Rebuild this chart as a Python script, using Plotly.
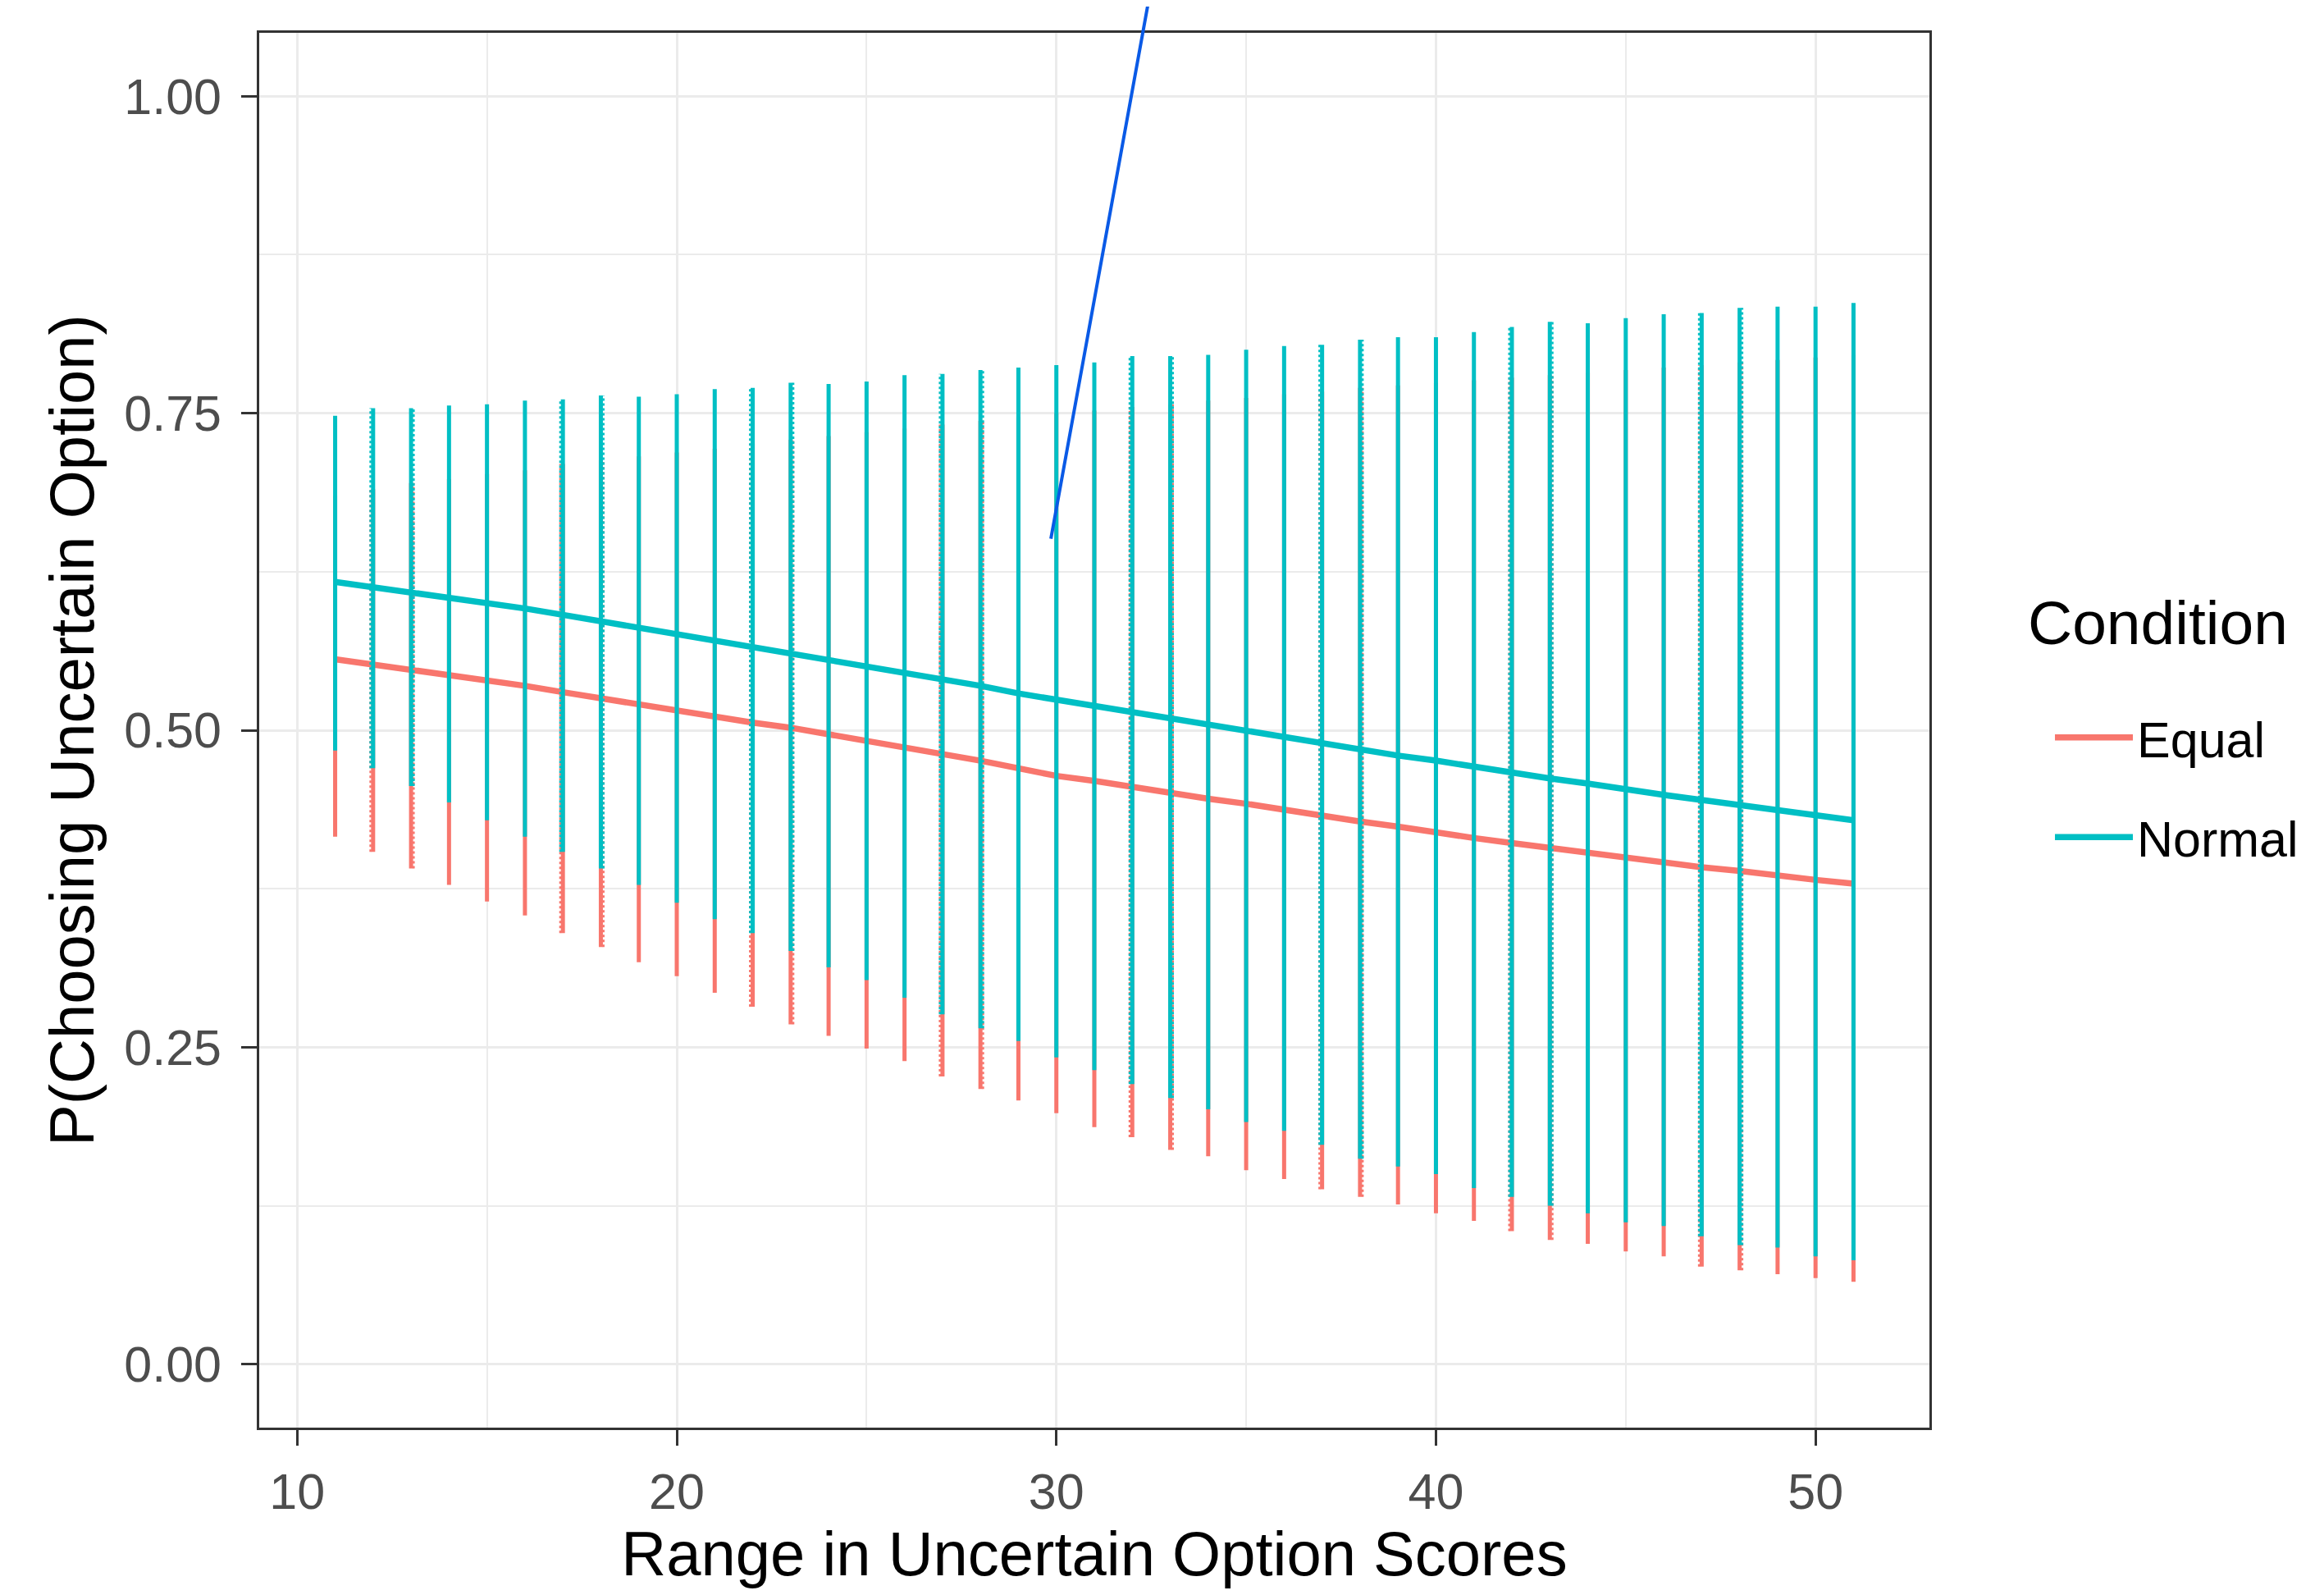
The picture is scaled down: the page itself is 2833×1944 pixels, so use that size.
import plotly.graph_objects as go

x_vals = list(range(11, 52))

equal_mean = [0.556, 0.552, 0.548, 0.543, 0.539, 0.535, 0.530, 0.525, 0.520, 0.515,
              0.511, 0.506, 0.502, 0.497, 0.492, 0.487, 0.481, 0.476, 0.470, 0.464,
              0.460, 0.455, 0.451, 0.446, 0.442, 0.437, 0.433, 0.428, 0.424, 0.419,
              0.415, 0.411, 0.407, 0.403, 0.399, 0.395, 0.392, 0.389, 0.385, 0.382, 0.379]
equal_low = [0.416, 0.404, 0.391, 0.378, 0.365, 0.354, 0.340, 0.329, 0.317, 0.306,
             0.293, 0.282, 0.268, 0.259, 0.249, 0.239, 0.227, 0.217, 0.208, 0.198,
             0.187, 0.179, 0.169, 0.164, 0.153, 0.146, 0.138, 0.132, 0.126, 0.119,
             0.113, 0.105, 0.098, 0.095, 0.089, 0.085, 0.077, 0.074, 0.071, 0.068, 0.065]
equal_high = [0.685, 0.690, 0.695, 0.698, 0.702, 0.705, 0.710, 0.713, 0.716, 0.719,
              0.722, 0.726, 0.729, 0.732, 0.735, 0.738, 0.741, 0.744, 0.747, 0.750,
              0.752, 0.755, 0.757, 0.760, 0.762, 0.765, 0.767, 0.770, 0.772, 0.774,
              0.776, 0.778, 0.780, 0.782, 0.784, 0.786, 0.788, 0.790, 0.792, 0.794, 0.796]

normal_mean = [0.617, 0.613, 0.609, 0.605, 0.600, 0.596, 0.591, 0.586, 0.581, 0.576,
               0.571, 0.566, 0.561, 0.555, 0.550, 0.545, 0.540, 0.535, 0.529, 0.524,
               0.519, 0.514, 0.509, 0.505, 0.500, 0.495, 0.490, 0.485, 0.480, 0.476,
               0.471, 0.467, 0.462, 0.458, 0.453, 0.449, 0.445, 0.441, 0.437, 0.433, 0.429]
normal_low = [0.484, 0.470, 0.456, 0.443, 0.429, 0.416, 0.404, 0.391, 0.378, 0.364,
              0.351, 0.340, 0.326, 0.313, 0.303, 0.289, 0.276, 0.265, 0.255, 0.242,
              0.232, 0.221, 0.210, 0.201, 0.191, 0.184, 0.173, 0.162, 0.156, 0.150,
              0.139, 0.132, 0.125, 0.119, 0.112, 0.109, 0.101, 0.094, 0.092, 0.085, 0.082]
normal_high = [0.748, 0.754, 0.754, 0.756, 0.757, 0.760, 0.761, 0.764, 0.763, 0.765,
               0.769, 0.770, 0.774, 0.773, 0.775, 0.780, 0.781, 0.784, 0.786, 0.788,
               0.790, 0.795, 0.795, 0.796, 0.800, 0.803, 0.804, 0.808, 0.810, 0.810,
               0.814, 0.818, 0.822, 0.821, 0.825, 0.828, 0.829, 0.833, 0.834, 0.834, 0.837]

conditions = ["Equal", "Normal"]
colors = {"Equal": "#F8766D", "Normal": "#00BFC4"}
legend_title = "Condition"

# annotation segment (start point and far end, in data units)
arrow_start = (29.85, 0.65)
arrow_end = (32.58, 1.10)

FONT = "Liberation Sans, Arial, Helvetica, sans-serif"

fig = go.Figure()


def bar_xy(xs, lo, hi, offset=0.0, only=None):
    bx, by = [], []
    for xi, l, h in zip(xs, lo, hi):
        if only is not None and not only(xi):
            continue
        bx += [xi + offset, xi + offset, None]
        by += [l, h, None]
    return bx, by


series = {
    "Equal": (equal_mean, equal_low, equal_high),
    "Normal": (normal_mean, normal_low, normal_high),
}

for cond in conditions:
    mean, lo, hi = series[cond]
    col = colors[cond]
    # rendering-artifact style doubled dotted bars
    for off, cond_fn in ((-0.07, lambda v: v % 5 == 2), (0.07, lambda v: v % 5 == 3)):
        dx, dy = bar_xy(x_vals, lo, hi, off, cond_fn)
        fig.add_trace(go.Scatter(x=dx, y=dy, mode="lines",
                                 line=dict(color=col, width=2.5, dash="dot"),
                                 showlegend=False, hoverinfo="skip"))
    bx, by = bar_xy(x_vals, lo, hi)
    fig.add_trace(go.Scatter(x=bx, y=by, mode="lines",
                             line=dict(color=col, width=5),
                             showlegend=False, hoverinfo="skip"))
    fig.add_trace(go.Scatter(x=x_vals, y=mean, mode="lines", name=cond,
                             legendgroup=cond,
                             line=dict(color=col, width=7.5)))

fig.add_annotation(x=arrow_end[0], y=arrow_end[1], ax=arrow_start[0], ay=arrow_start[1],
                   xref="x", yref="y", axref="x", ayref="y",
                   text="", showarrow=True, arrowhead=0, arrowwidth=4,
                   arrowcolor="#0A5AE6", standoff=0, startstandoff=0)

# legend title
fig.add_annotation(x=1.058, y=0.577, xref="paper", yref="paper",
                   xanchor="left", yanchor="middle", showarrow=False,
                   text=legend_title, font=dict(family=FONT, size=75, color="black"))

axis_common = dict(
    showline=True, mirror=True, linecolor="#333333", linewidth=2.5,
    ticks="outside", ticklen=19, tickwidth=3, tickcolor="#333333",
    showgrid=True, gridcolor="#EBEBEB", gridwidth=3,
    zeroline=False, automargin=False,
    tickfont=dict(family=FONT, size=61, color="#4D4D4D"),
)

fig.update_xaxes(
    range=[9, 53], tickvals=[10, 20, 30, 40, 50],
    minor=dict(dtick=5, tick0=5, showgrid=True, gridcolor="#EBEBEB", gridwidth=1.6, ticklen=0),
    title=dict(text="Range in Uncertain Option Scores",
               font=dict(family=FONT, size=76, color="black"), standoff=40),
    ticklabelstandoff=4,
    **axis_common,
)
fig.update_yaxes(
    range=[-0.05, 1.05], tickvals=[0, 0.25, 0.5, 0.75, 1.0], tickformat=".2f",
    minor=dict(dtick=0.125, tick0=0, showgrid=True, gridcolor="#EBEBEB", gridwidth=1.6, ticklen=0),
    title=dict(text="P(Choosing Uncertain Option)",
               font=dict(family=FONT, size=76, color="black"), standoff=12),
    ticklabelstandoff=12,
    **axis_common,
)

fig.update_layout(
    width=2817, height=1928,
    margin=dict(l=308, r=473, t=32, b=196, pad=0, autoexpand=False),
    paper_bgcolor="white", plot_bgcolor="white",
    font=dict(family=FONT, color="black"),
    showlegend=True,
    legend=dict(
        font=dict(family=FONT, size=61, color="black"),
        x=1.0727, xanchor="left", y=0.459, yanchor="middle",
        bgcolor="rgba(0,0,0,0)", borderwidth=0,
        itemwidth=95, tracegroupgap=39,
    ),
)

fig.write_html("out.html")
